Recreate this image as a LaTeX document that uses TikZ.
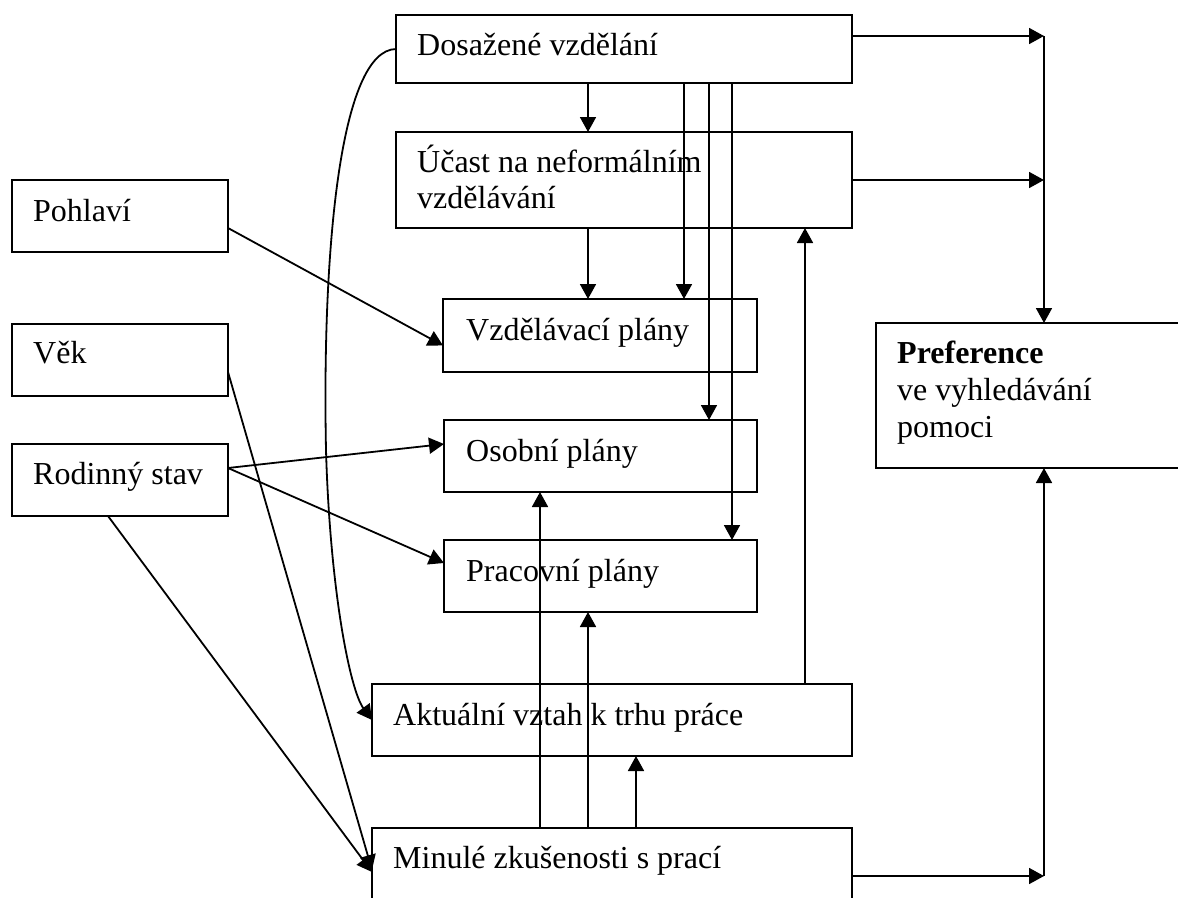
\documentclass[tikz,border=0pt]{standalone}
\usepackage{fontspec}
\setmainfont{Liberation Serif}
\usetikzlibrary{arrows.meta}
\tikzset{
  box/.style={draw, line width=1.6pt, anchor=north west, inner sep=0pt, outer sep=0pt},
  txt/.style={anchor=base west, inner sep=0pt, font=\fontsize{32}{37}\selectfont},
  arr/.style={line width=1.8pt, -{Triangle[length=15pt,width=16pt]}}
}
\begin{document}
\begin{tikzpicture}[x=1pt,y=-1pt]
\useasboundingbox (0,0) rectangle (1178,897);
\clip (0,0) rectangle (1178,897);
% boxes
\node[box, minimum width=456pt, minimum height=68pt] (dos) at (396,15) {};
\node[box, minimum width=456pt, minimum height=96pt] (uc) at (396,132) {};
\node[box, minimum width=216pt, minimum height=72pt] (poh) at (12,180) {};
\node[box, minimum width=216pt, minimum height=72pt] (vek) at (12,324) {};
\node[box, minimum width=216pt, minimum height=72pt] (rod) at (12,444) {};
\node[box, minimum width=314pt, minimum height=73pt] (vzd) at (443,299) {};
\node[box, minimum width=313pt, minimum height=72pt] (oso) at (444,420) {};
\node[box, minimum width=313pt, minimum height=72pt] (pra) at (444,540) {};
\node[box, minimum width=480pt, minimum height=72pt] (akt) at (372,684) {};
\node[box, minimum width=480pt, minimum height=120pt] (min) at (372,828) {};
\node[box, minimum width=350pt, minimum height=145pt] (pref) at (876,323) {};
% texts
\node[txt] (tdos) at (417,55) {Dosažené vzdělání};
\node[txt] (tuc1) at (417,172) {Účast na neformálním};
\node[txt] (tuc2) at (417,208) {vzdělávání};
\node[txt] (tpoh) at (33,221) {Pohlaví};
\node[txt] (tvek) at (33,363) {Věk};
\node[txt] (trod) at (33,484) {Rodinný stav};
\node[txt] (tvzd) at (466,340) {Vzdělávací plány};
\node[txt] (toso) at (466,461) {Osobní plány};
\node[txt] (tpra) at (466,581) {Pracovní plány};
\node[txt] (takt) at (393,725) {Aktuální vztah k trhu práce};
\node[txt] (tmin) at (393,868) {Minulé zkušenosti s prací};
\node[txt] (tpr1) at (897,363) {\bfseries Preference};
\node[txt] (tpr2) at (897,400) {ve vyhledávání};
\node[txt] (tpr3) at (897,437) {pomoci};
% helper columns
\coordinate (c540) at (540,0);
\coordinate (c588) at (588,0);
\coordinate (c636) at (636,0);
\coordinate (c684) at (684,0);
\coordinate (c709) at (709,0);
\coordinate (c732) at (732,0);
\coordinate (c805) at (805,0);
\coordinate (j1) at (1044,36);
\coordinate (j2) at (1044,180);
\coordinate (j3) at (1044,876);
% vertical connectors
\draw[arr] (c588 |- dos.south) -- (c588 |- uc.north);
\draw[arr] (c588 |- uc.south) -- (c588 |- vzd.north);
\draw[arr] (c684 |- dos.south) -- (c684 |- vzd.north);
\draw[arr] (c709 |- dos.south) -- (c709 |- oso.north);
\draw[arr] (c732 |- dos.south) -- (c732 |- pra.north);
\draw[arr] (c805 |- akt.north) -- (c805 |- uc.south);
\draw[arr] (c540 |- min.north) -- (c540 |- oso.south);
\draw[arr] (c588 |- min.north) -- (c588 |- pra.south);
\draw[arr] (c636 |- min.north) -- (c636 |- akt.south);
% right side
\draw[arr] (j1 -| dos.east) -- (j1);
\draw[arr] (j2 -| uc.east) -- (j2);
\draw[arr] (j1) -- (j1 |- pref.north);
\draw[arr] (j3 -| min.east) -- (j3);
\draw[arr] (j3) -- (j3 |- pref.south);
% left diagonals
\draw[arr] ([yshift=-12pt]poh.east) -- ([yshift=-10pt]vzd.west);
\draw[arr] ([yshift=-12pt]vek.east) -- ([yshift=-42pt]min.north west);
\draw[arr] ([yshift=12pt]rod.east) -- ([yshift=12pt]oso.west);
\draw[arr] ([yshift=12pt]rod.east) -- ([yshift=13pt]pra.west);
\draw[arr] ([xshift=-12pt]rod.south) -- ([yshift=-44pt]min.north west);
% curved connector
\draw[arr] (dos.west) .. controls (340,50) and (322,250) .. (326,450)
  .. controls (330,590) and (350,690) .. (akt.west);
\end{tikzpicture}
\end{document}
